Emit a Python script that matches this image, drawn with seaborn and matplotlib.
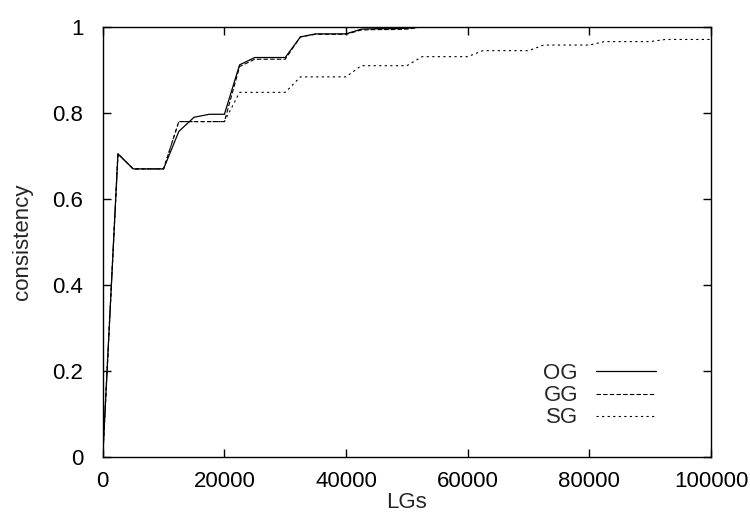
import numpy as np
import pandas as pd
import matplotlib
matplotlib.use("Agg")
import matplotlib.pyplot as plt
import seaborn as sns

# LGs sampled every 2500
lgs = list(range(0, 100001, 2500))

og = [0.0, 0.705, 0.67, 0.67, 0.67, 0.757, 0.79, 0.797, 0.797, 0.912,
      0.929, 0.929, 0.929, 0.977, 0.984, 0.984, 0.984, 0.995, 0.996, 0.996,
      0.997] + [1.0] * 20
gg = [0.0, 0.705, 0.67, 0.67, 0.67, 0.78, 0.78, 0.78, 0.78, 0.908,
      0.925, 0.925, 0.925, 0.977, 0.983, 0.983, 0.983, 0.993, 0.994, 0.994,
      0.995] + [1.0] * 20
sg = [0.0, 0.705, 0.67, 0.67, 0.67, 0.78, 0.78, 0.78, 0.78, 0.848,
      0.848, 0.848, 0.848, 0.884, 0.884, 0.884, 0.884, 0.91, 0.91, 0.91,
      0.91, 0.931, 0.931, 0.931, 0.931, 0.945, 0.945, 0.945, 0.945, 0.958,
      0.958, 0.958, 0.958, 0.966, 0.966, 0.966, 0.966, 0.971, 0.971, 0.971,
      0.971]

x_ticks = [0, 20000, 40000, 60000, 80000, 100000]
y_ticks = [0, 0.2, 0.4, 0.6, 0.8, 1.0]
y_labels = ["0", "0.2", "0.4", "0.6", "0.8", "1"]

sns.set_theme(style="ticks")
plt.rcParams["font.family"] = ["Liberation Sans", "DejaVu Sans"]
plt.rcParams["xtick.direction"] = "in"
plt.rcParams["ytick.direction"] = "in"

fig = plt.figure(figsize=(7.5, 5.25), dpi=100)
ax = fig.add_axes([0.137, 0.1295, 0.811, 0.8191])

df = pd.DataFrame({"LGs": lgs, "OG": og, "GG": gg, "SG": sg})
sns.lineplot(data=df, x="LGs", y="OG", ax=ax, color="black", lw=0.9, label="OG")
sns.lineplot(data=df, x="LGs", y="GG", ax=ax, color="black", lw=0.8,
             linestyle=(0, (4, 2)), label="GG")
sns.lineplot(data=df, x="LGs", y="SG", ax=ax, color="black", lw=0.8,
             linestyle=(0, (2, 3)), label="SG")

ax.set_xlim(0, 100000)
ax.set_ylim(0, 1)
ax.set_xticks(x_ticks)
ax.set_xticklabels([str(t) for t in x_ticks])
ax.set_yticks(y_ticks)
ax.set_yticklabels(y_labels)
ax.tick_params(axis="both", which="both", top=True, right=True, length=6,
               width=1, labelsize=16, color="black", labelcolor="black")
ax.tick_params(axis="x", pad=10)
ax.tick_params(axis="y", pad=14)
for sp in ax.spines.values():
    sp.set_color("black")
    sp.set_linewidth(1)

ax.set_xlabel("LGs", fontsize=16, labelpad=0)
ax.set_ylabel("consistency", fontsize=16, labelpad=14)

ax.legend(loc="lower right", bbox_to_anchor=(0.942, 0.02), frameon=False,
          markerfirst=False, fontsize=16, handlelength=2.7, handletextpad=0.8,
          labelspacing=0.05)

fig.savefig("out.png", dpi=100)
